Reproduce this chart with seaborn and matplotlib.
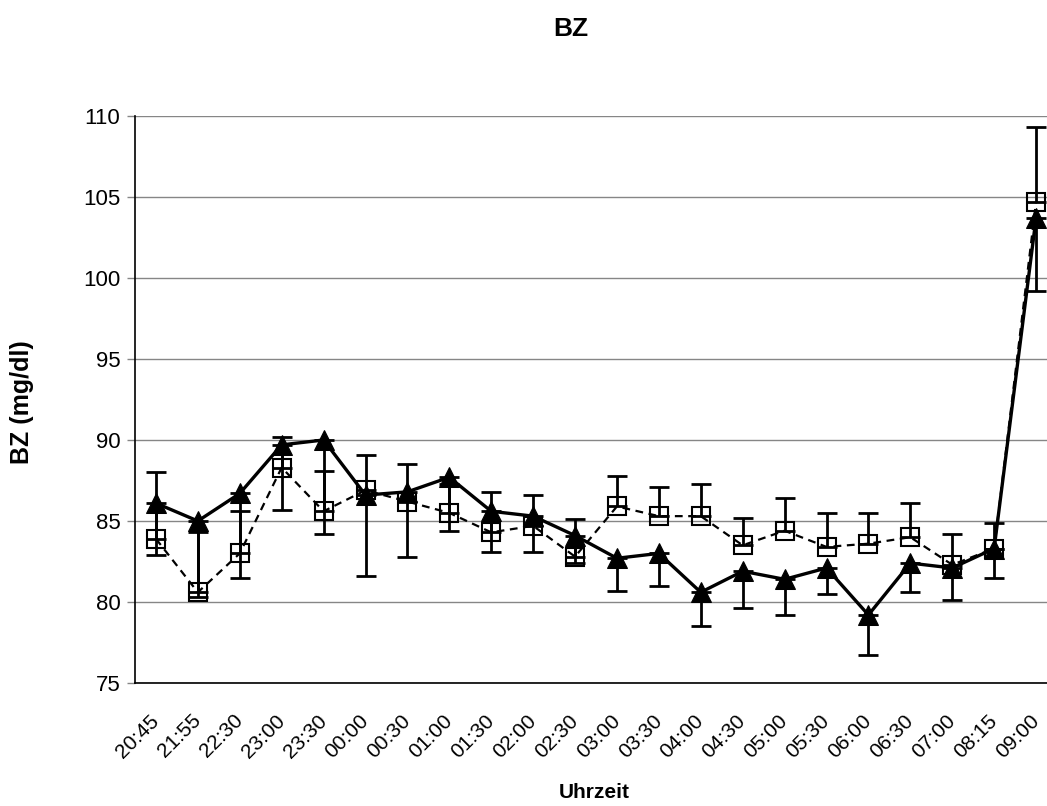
import numpy as np
import pandas as pd
import seaborn as sns
import matplotlib
matplotlib.use("Agg")
import matplotlib.pyplot as plt
from matplotlib.transforms import ScaledTranslation

# ---------------------------- data ----------------------------
times = ["20:45", "21:55", "22:30", "23:00", "23:30", "00:00", "00:30", "01:00",
         "01:30", "02:00", "02:30", "03:00", "03:30", "04:00", "04:30", "05:00",
         "05:30", "06:00", "06:30", "07:00", "08:15", "09:00"]

# filled triangles, solid line, error bars pointing down
tri_values = [86.1, 85.0, 86.7, 89.7, 90.0, 86.6, 86.8, 87.7, 85.6, 85.3, 84.1,
              82.7, 83.0, 80.6, 81.9, 81.4, 82.1, 79.2, 82.4, 82.1, 83.3, 103.7]
tri_err = [3.2, 4.7, 5.2, 4.0, 5.8, 5.0, 4.0, 3.3, 2.5, 2.2, 1.7,
           2.0, 2.0, 2.1, 2.3, 2.2, 1.6, 2.5, 1.8, 2.0, 1.8, 4.5]

# open squares, dashed line, error bars pointing up
sq_values = [83.9, 80.6, 83.0, 88.3, 85.6, 86.9, 86.2, 85.5, 84.3, 84.7, 82.8,
             85.9, 85.3, 85.3, 83.5, 84.4, 83.4, 83.6, 84.0, 82.3, 83.3, 104.7]
sq_err = [4.1, 3.7, 2.6, 1.9, 2.5, 2.2, 2.3, 1.8, 2.5, 1.9, 2.3,
          1.9, 1.8, 2.0, 1.7, 2.0, 2.1, 1.9, 2.1, 1.9, 1.6, 4.6]

df = pd.DataFrame({"pos": np.arange(len(times)), "time": times,
                   "tri": tri_values, "tri_err": tri_err,
                   "sq": sq_values, "sq_err": sq_err})

# ---------------------------- plot ----------------------------
sns.set_style("white")
plt.rcParams["font.family"] = ["Liberation Sans", "DejaVu Sans"]
plt.rcParams["text.color"] = "black"

fig = plt.figure(figsize=(10.47, 8.06), dpi=100)
ax = fig.add_axes([135 / 1047, 123 / 806, 922 / 1047, 567 / 806])

zero = np.zeros(len(times))
# error bars
ax.errorbar(df["pos"], df["sq"], yerr=[zero, df["sq_err"]], fmt="none",
            ecolor="black", elinewidth=2, capsize=7, capthick=2, zorder=3)
ax.errorbar(df["pos"], df["tri"], yerr=[df["tri_err"], zero], fmt="none",
            ecolor="black", elinewidth=2, capsize=7, capthick=2, zorder=3)

sns.lineplot(data=df, x="pos", y="sq", ax=ax, color="black", lw=1.6,
             dashes=False, marker="s", markersize=13, markerfacecolor="none",
             markeredgecolor="black", markeredgewidth=1.5, zorder=4)
ax.lines[-1].set_linestyle((0, (3.5, 2.5)))
sns.lineplot(data=df, x="pos", y="tri", ax=ax, color="black", lw=2.4,
             marker="^", markersize=14, markerfacecolor="black",
             markeredgecolor="black", zorder=5)

ax.set_xlim(-0.5, len(times) - 0.5)
ax.set_ylim(75, 110)
ax.set_yticks(np.arange(75, 111, 5))
ax.yaxis.grid(True, color="#868686", lw=1)
ax.set_axisbelow(True)

ax.set_xticks(df["pos"])
ax.set_xticklabels(times, rotation=45, ha="right", va="center",
                   rotation_mode="anchor", fontsize=15)
shift = ScaledTranslation(7 / 100, 0, fig.dpi_scale_trans)
for lab in ax.get_xticklabels():
    lab.set_transform(lab.get_transform() + shift)
ax.set_xticks(np.arange(-0.5, len(times), 1), minor=True)
ax.tick_params(axis="x", which="major", length=0, pad=25, labelcolor="black")
ax.tick_params(axis="x", which="minor", length=5, color="#868686", width=1)
ax.tick_params(axis="y", length=6, color="#868686", width=1, pad=4.5, labelsize=16,
               left=True, labelcolor="black")

for s in ["top", "right"]:
    ax.spines[s].set_visible(False)
for s in ["left", "bottom"]:
    ax.spines[s].set_color("black")
    ax.spines[s].set_linewidth(1.2)

ax.set_xlabel("")
ax.set_ylabel("")
fig.text(571 / 1047, 1 - 29 / 806, "BZ", ha="center", va="center",
         fontsize=19, fontweight="bold")
fig.text(594 / 1047, 1 - 792 / 806, "Uhrzeit", ha="center", va="center",
         fontsize=15, fontweight="bold")
fig.text(22 / 1047, 1 - 402 / 806, "BZ (mg/dl)", ha="center", va="center",
         rotation=90, fontsize=18, fontweight="bold")

fig.savefig("out.png", dpi=100)
